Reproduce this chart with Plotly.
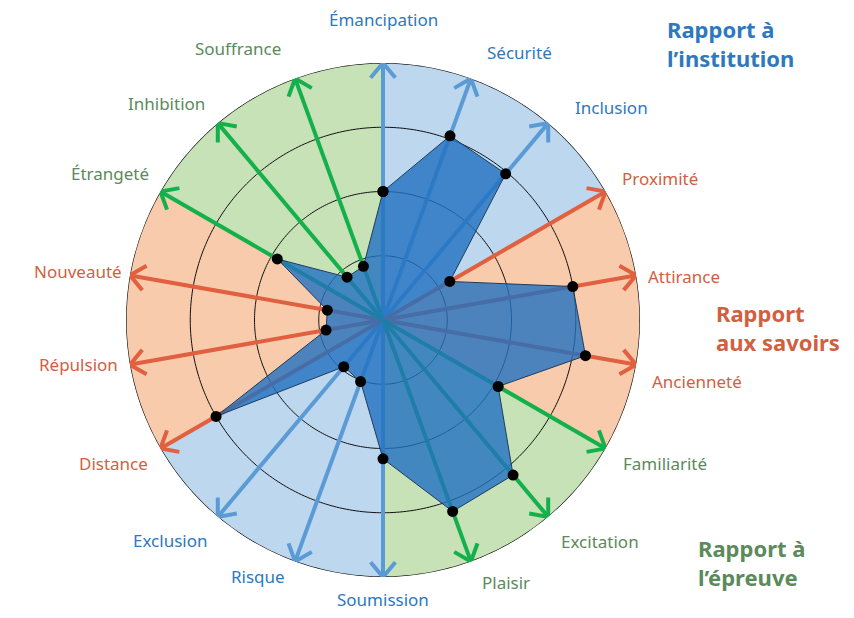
import numpy as np
import plotly.graph_objects as go

# axes of the radar, clockwise from the top
axes = ["Émancipation", "Sécurité", "Inclusion", "Proximité", "Attirance", "Ancienneté",
        "Familiarité", "Excitation", "Plaisir", "Soumission", "Risque", "Exclusion",
        "Distance", "Répulsion", "Nouveauté", "Étrangeté", "Inhibition", "Souffrance"]
axis_group = ["inst", "inst", "inst", "sav", "sav", "sav", "epr", "epr", "epr",
              "inst", "inst", "inst", "sav", "sav", "sav", "epr", "epr", "epr"]
scores = [2.0, 3.05, 2.97, 1.2, 3.0, 3.2, 2.07, 3.15, 3.17,
          2.16, 1.02, 0.95, 3.0, 0.9, 0.88, 1.9, 0.87, 0.89]
sector_group = ["inst", "sav", "epr", "inst", "sav", "epr"]
group_titles = {"inst": "Rapport à<br>l’institution",
                "sav": "Rapport<br>aux savoirs",
                "epr": "Rapport à<br>l’épreuve"}

# styling / placement
W, H = 854, 618
OFF = 8                      # page body margin
CX, CY, RPX = 383, 320, 257  # centre and outer radius on screen
angles = [90 - 20 * i for i in range(len(axes))]
angles = [a if a > -180 else a + 360 for a in angles]
RMAX = 4
bg = {"inst": "#bdd7ee", "sav": "#f8cbad", "epr": "#c8e2b8"}
arrow_col = {"inst": "#5b9bd5", "sav": "#e0603f", "epr": "#14b04c"}
text_col = {"inst": "#2e78bd", "sav": "#d2603f", "epr": "#5b8a5b"}
FONT = "Noto Sans"


def paper(x, y):
    return (x - OFF) / W, 1 - (y - OFF) / H


fig = go.Figure()

# coloured sectors, 60 degrees each
fig.add_trace(go.Barpolar(
    r=[RMAX] * 6, theta=[60, 0, -60, -120, 180, 120], width=[60] * 6,
    marker=dict(color=[bg[g] for g in sector_group], line=dict(width=0)),
    hoverinfo="skip",
))

# rings
ring_theta = np.arange(0, 361, 1)
for k in [1, 2, 3, 4]:
    fig.add_trace(go.Scatterpolar(
        r=[k] * len(ring_theta), theta=ring_theta, mode="lines",
        line=dict(color="#111", width=1.3 if k == RMAX else 1), hoverinfo="skip",
    ))

# arrows (shaft + open chevron head)
head_len, head_ang = 0.3, np.radians(40)
for g in ["inst", "sav", "epr"]:
    rs, ts = [], []
    hr, ht = [], []
    for a, gg in zip(angles, axis_group):
        if gg != g:
            continue
        rs += [0, RMAX - 0.03, None]
        ts += [a, a, None]
        t = np.radians(a)
        tip = np.array([RMAX * np.cos(t), RMAX * np.sin(t)])
        pts = [tip - head_len * np.array([np.cos(t + s * head_ang), np.sin(t + s * head_ang)])
               for s in (1, -1)]
        for p in (pts[0], tip, pts[1]):
            hr.append(float(np.hypot(*p)))
            ht.append(float(np.degrees(np.arctan2(p[1], p[0]))))
        hr.append(None)
        ht.append(None)
    fig.add_trace(go.Scatterpolar(r=rs, theta=ts, mode="lines",
                                  line=dict(color=arrow_col[g], width=4), hoverinfo="skip"))
    fig.add_trace(go.Scatterpolar(r=hr, theta=ht, mode="lines",
                                  line=dict(color=arrow_col[g], width=4), hoverinfo="skip"))

# profile polygon
fig.add_trace(go.Scatterpolar(
    r=scores + [scores[0]], theta=angles + [angles[0]],
    mode="lines+markers", fill="toself", fillcolor="rgba(32,112,192,0.80)",
    line=dict(color="#1d3d5e", width=1),
    marker=dict(color="black", size=11),
))

# axis labels, placed around the outer ring
label_rad = [300, 300, 312, 311, 304, 320, 316, 310, 290,
             279, 285, 307, 305, 308, 309, 310, 306, 308]
label_theta = [90, 63, 43, 27, 8.3, -11, -27, -45.6, -65,
               -90, -116, -134, -152, -171.6, 171, 151.7, 135, 118]
for name, g, rr, th in zip(axes, axis_group, label_rad, label_theta):
    t = np.radians(th)
    x, y = paper(CX + rr * np.cos(t), CY - rr * np.sin(t))
    fig.add_annotation(text=name, x=x, y=y, xref="paper", yref="paper",
                       xanchor="center", yanchor="middle", showarrow=False,
                       font=dict(family=FONT, size=17, color=text_col[g]))

# group titles
for g, sx, sy in [("inst", 665, 43), ("sav", 714, 327), ("epr", 696, 562)]:
    x, y = paper(sx, sy)
    fig.add_annotation(text=group_titles[g], x=x, y=y, xref="paper", yref="paper",
                       xanchor="left", yanchor="middle", align="left", showarrow=False,
                       font=dict(family=FONT, size=22, color=text_col[g], weight="bold"))

x0, y1 = paper(CX - RPX, CY - RPX)
x1, y0 = paper(CX + RPX, CY + RPX)
fig.update_layout(
    width=W, height=H, margin=dict(l=0, r=0, t=0, b=0),
    paper_bgcolor="white", plot_bgcolor="white", showlegend=False,
    polar=dict(
        domain=dict(x=[x0, x1], y=[y0, y1]),
        bgcolor="rgba(0,0,0,0)", bargap=0,
        radialaxis=dict(range=[0, RMAX], visible=False),
        angularaxis=dict(visible=False, direction="counterclockwise", rotation=0),
    ),
)

fig.write_html("out.html")
